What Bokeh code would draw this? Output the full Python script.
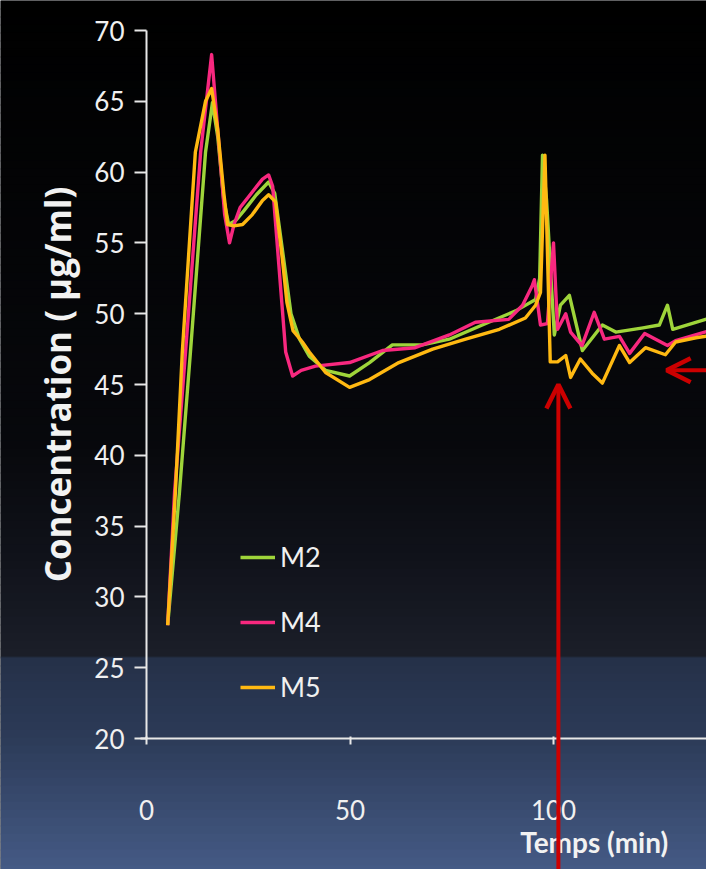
from bokeh.plotting import figure
from bokeh.models import (BoxAnnotation, Arrow, OpenHead, Label, Legend, LegendItem,
                          FixedTicker)
from bokeh.embed import file_html
from bokeh.resources import INLINE

# ---------------- data ----------------
x_ticks = [0, 50, 100]
y_ticks = [20, 25, 30, 35, 40, 45, 50, 55, 60, 65, 70]
series_names = ["M2", "M4", "M5"]

m2_x = [5.2, 8.1, 10.8, 14.5, 16.2, 17.5, 19.0, 20.2, 22.0, 24.0, 27.0, 30.0, 31.5, 33.4,
        35.5, 37.6, 40.0, 44.0, 49.9, 54.8, 60.4, 67.8, 74.4, 82.5, 90.7, 95.6, 96.6,
        97.3, 98.3, 100.2, 101.7, 103.9, 107.1, 112.0, 115.3, 122.0, 126.0, 128.0,
        129.3, 139.6]
m2_y = [28.0, 37.4, 47.3, 61.4, 64.9, 62.5, 58.0, 56.3, 56.6, 57.3, 58.4, 59.3, 58.5, 54.5,
        50.0, 48.2, 47.0, 46.0, 45.6, 46.55, 47.8, 47.8, 48.2, 49.2, 50.2, 51.0, 52.5,
        61.2, 58.0, 48.5, 50.6, 51.3, 47.4, 49.2, 48.7, 49.0, 49.2, 50.6,
        48.9, 49.8]

m4_x = [5.2, 6.9, 9.6, 13.3, 16.0, 17.5, 19.2, 20.4, 21.5, 23.0, 26.0, 28.5, 30.0, 31.0,
        32.5, 34.2, 35.9, 38.0, 41.5, 49.9, 58.0, 66.0, 74.4, 80.8, 89.0, 92.4, 94.8,
        95.3, 96.8, 98.5, 100.0, 101.0, 103.0, 104.2, 107.0, 110.0, 112.5, 116.2, 118.7,
        122.4, 128.0, 130.0, 139.6]
m4_y = [28.0, 37.4, 47.3, 61.4, 68.3, 63.0, 57.0, 55.0, 56.3, 57.5, 58.6, 59.5, 59.8, 59.0,
        53.5, 47.3, 45.6, 46.0, 46.3, 46.55, 47.4, 47.6, 48.5, 49.4, 49.6, 50.6, 52.0,
        52.4, 49.2, 49.3, 55.0, 48.9, 50.0, 48.7, 47.75, 50.1, 48.2, 48.4, 47.2,
        48.6, 47.75, 48.1, 48.9]

m5_x = [5.2, 7.1, 8.8, 12.0, 14.5, 16.0, 17.5, 19.0, 19.9, 21.5, 23.6, 26.0, 28.5, 30.0,
        31.7, 33.4, 34.5, 36.0, 38.3, 40.0, 44.0, 49.9, 54.8, 62.0, 70.3, 78.4, 86.7,
        93.1, 95.6, 96.8, 97.9, 99.2, 101.0, 103.0, 104.2, 106.6, 109.5, 112.0, 116.2,
        118.7, 122.6, 127.5, 130.0, 135.0, 139.6]
m5_y = [28.0, 37.4, 47.3, 61.4, 65.0, 65.9, 63.0, 58.5, 56.3, 56.2, 56.3, 57.0, 58.0, 58.4,
        57.9, 53.8, 50.8, 48.8, 48.0, 47.3, 45.85, 44.8, 45.35, 46.55, 47.5, 48.2, 48.9,
        49.7, 50.6, 51.5, 61.2, 46.6, 46.6, 47.05, 45.5, 46.8, 45.8, 45.1, 47.75,
        46.55, 47.6, 47.1, 48.0, 48.3, 48.5]

colors = ["#9fd53a", "#f8287f", "#ffb912"]

# ---------------- figure ----------------
# The frame fills the whole canvas; the axes are pinned inside it (fixed_location)
W, H = 706, 869
X0_PX, PX_X = 146.0, 4.07      # canvas x of time 0, pixels per minute
Y70_PX, PX_Y = 30.0, 14.16     # canvas y of 70 µg/ml, pixels per unit
x_start = -X0_PX / PX_X
x_end = (W - X0_PX) / PX_X
y_end = 70 + Y70_PX / PX_Y
y_start = 70 - (H - Y70_PX) / PX_Y

p = figure(width=W, height=H, x_range=(x_start, x_end), y_range=(y_start, y_end),
           output_backend="svg", toolbar_location=None,
           min_border_left=0, min_border_right=0, min_border_top=0, min_border_bottom=0)
p.title.visible = False
p.border_fill_color = "#05060a"
p.background_fill_color = "#05060a"
p.outline_line_color = None
p.grid.visible = False

# slide background: vertical gradient built from thin bands (canvas units)
stops = [(0, (0, 0, 0)), (440, (7, 8, 12)), (555, (16, 18, 26)), (656, (27, 30, 41)),
         (657, (37, 49, 72)), (738, (44, 59, 88)), (877, (70, 92, 136))]

def col_at(y):
    for (y0, c0), (y1, c1) in zip(stops[:-1], stops[1:]):
        if y0 <= y <= y1:
            t = 0 if y1 == y0 else (y - y0) / (y1 - y0)
            return "#%02x%02x%02x" % tuple(int(round(a + (b - a) * t)) for a, b in zip(c0, c1))
    return "#%02x%02x%02x" % stops[-1][1]

step = 8
yy = 0
while yy < H:
    y2 = min(H, yy + step)
    if yy < 657 < y2:
        y2 = 657
    p.add_layout(BoxAnnotation(left=0, right=W, top=yy, bottom=y2 + 1,
                               left_units="canvas", right_units="canvas",
                               top_units="canvas", bottom_units="canvas",
                               fill_color=col_at((yy + y2) / 2), fill_alpha=1,
                               line_color=None, level="underlay"))
    yy = y2

font = "Lato"
axis_col = "#e8e8e8"

for ax in (p.xaxis[0], p.yaxis[0]):
    ax.axis_line_color = axis_col
    ax.axis_line_width = 2
    ax.major_tick_line_color = axis_col
    ax.major_tick_line_width = 2
    ax.minor_tick_line_color = None
    ax.major_label_text_color = "#f0f0f0"
    ax.major_label_text_font = font
    ax.major_label_text_font_size = "26px"

p.xaxis.fixed_location = 20
p.xaxis.bounds = (-1.5, x_end)
p.xaxis.ticker = FixedTicker(ticks=x_ticks)
p.xaxis.major_tick_out = 6
p.xaxis.major_tick_in = 2
p.xaxis.major_label_standoff = 55

p.yaxis.fixed_location = 0
p.yaxis.bounds = (20, 70)
p.yaxis.ticker = FixedTicker(ticks=y_ticks)
p.yaxis.major_tick_out = 12
p.yaxis.major_tick_in = 0
p.yaxis.major_label_standoff = 10
p.yaxis.axis_label = "Concentration ( µg/ml)"
p.yaxis.axis_label_text_font = "Open Sans"
p.yaxis.axis_label_text_font_style = "bold"
p.yaxis.axis_label_text_font_size = "35px"
p.yaxis.axis_label_text_color = "#f2f2f2"
p.yaxis.axis_label_standoff = 10

# ---------------- lines ----------------
renderers = []
for xs, ys, c in zip([m2_x, m4_x, m5_x], [m2_y, m4_y, m5_y], colors):
    r = p.line(xs, ys, line_color=c, line_width=3.4, line_join="round")
    renderers.append(r)

legend = Legend(items=[LegendItem(label=n, renderers=[r]) for n, r in zip(series_names, renderers)],
                location=(240, 166), background_fill_alpha=0, border_line_color=None,
                label_text_color="#f0f0f0", label_text_font=font, label_text_font_size="27px",
                glyph_width=35, glyph_height=30, label_height=30, spacing=32,
                label_standoff=5, padding=0, margin=0)
p.add_layout(legend)

# x axis title placed right of centre as in the slide
p.add_layout(Label(x=110, y=12.7, text="Temps (min)", text_align="center",
                   text_baseline="middle", text_color="#f2f2f2", text_font=font,
                   text_font_style="bold", text_font_size="28px"))

# red annotation arrows
red = "#cc0000"
p.add_layout(Arrow(end=OpenHead(size=24, line_color=red, line_width=4.5),
                   x_start=101.2, y_start=y_start - 1, x_end=101.2, y_end=45.0,
                   line_color=red, line_width=4))
p.add_layout(Arrow(end=OpenHead(size=24, line_color=red, line_width=4.5),
                   x_start=x_end + 2, y_start=46.0, x_end=127.8, y_end=46.0,
                   line_color=red, line_width=4))

open("out.html", "w").write(file_html(p, INLINE))
